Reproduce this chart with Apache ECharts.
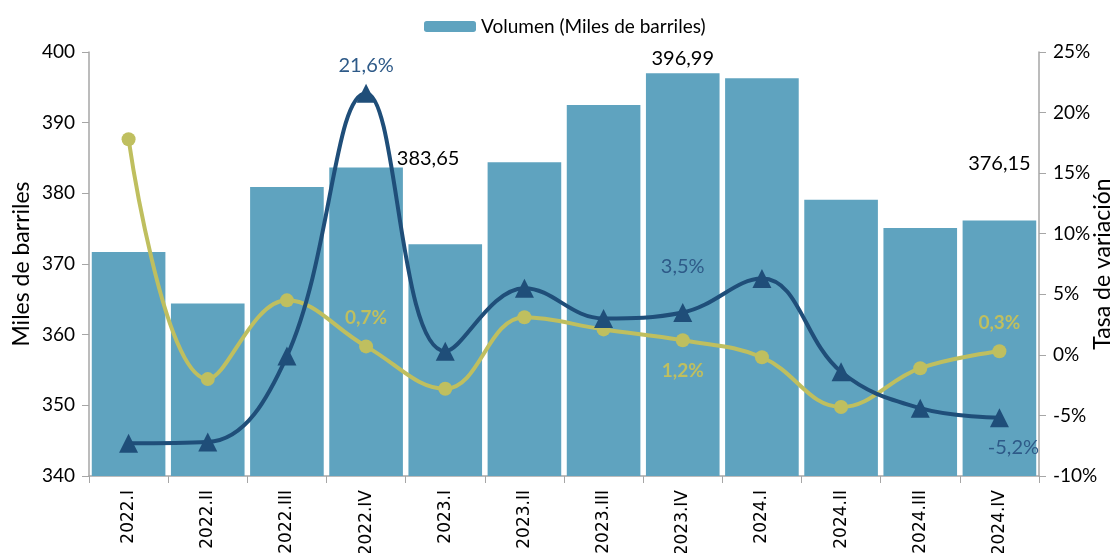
<!DOCTYPE html>
<html>
<head>
<meta charset="utf-8">
<script src="https://cdn.jsdelivr.net/npm/echarts@6/dist/echarts.min.js"></script>
<style>html,body{margin:0;padding:0;background:#fff;}#c{width:1120px;height:553px;}</style>
</head>
<body>
<div id="c"></div>
<script>
const categories = ['2022.I','2022.II','2022.III','2022.IV','2023.I','2023.II','2023.III','2023.IV','2024.I','2024.II','2024.III','2024.IV'];
const volumen = [371.7, 364.4, 380.9, 383.65, 372.8, 384.4, 392.5, 396.99, 396.3, 379.1, 375.1, 376.15];
const tasaTrimestral = [17.8, -2.0, 4.5, 0.7, -2.8, 3.1, 2.1, 1.2, -0.2, -4.3, -1.1, 0.3];
const tasaAnual = [-7.3, -7.2, -0.1, 21.6, 0.3, 5.5, 3.0, 3.5, 6.3, -1.4, -4.4, -5.2];
const leftTicks = [340, 400, 10];
const rightTicks = [-10, 25, 5];

const FONT = 'Lato, "Open Sans", sans-serif';
const fmtNum = v => v.toFixed(2).replace('.', ',');
const fmtPct = v => v.toFixed(1).replace('.', ',') + '%';

const barLabels = {3: {offset: [62, 6]}, 7: {offset: [0, 0]}, 11: {offset: [0, -42]}};
const barData = volumen.map((v, i) => {
  const o = {value: v};
  if (barLabels[i]) o.label = Object.assign({show: true, position: 'top', color: '#000', fontSize: 20, fontFamily: FONT, formatter: p => fmtNum(p.value)}, barLabels[i]);
  return o;
});
const yLabels = {3: {position: 'top', distance: 12}, 7: {position: 'bottom', distance: 14}, 11: {position: 'top', distance: 12}};
const yData = tasaTrimestral.map((v, i) => {
  const o = {value: v};
  if (yLabels[i]) o.label = Object.assign({show: true, color: '#BFBF5F', fontWeight: 'bold', fontSize: 19, fontFamily: FONT, formatter: p => fmtPct(p.value)}, yLabels[i]);
  return o;
});
const bLabels = {3: {position: 'top', distance: 8}, 7: {position: 'top', distance: 26}, 11: {position: 'bottom', distance: 10, offset: [14, 0]}};
const bData = tasaAnual.map((v, i) => {
  const o = {value: v};
  if (bLabels[i]) o.label = Object.assign({show: true, color: '#2E5A88', fontSize: 20, fontFamily: FONT, formatter: p => fmtPct(p.value)}, bLabels[i]);
  return o;
});

const chart = echarts.init(document.getElementById('c'));
chart.setOption({
  animation: false,
  textStyle: {fontFamily: FONT},
  legend: {
    data: ['Volumen (Miles de barriles)'],
    top: 12, left: 419,
    itemWidth: 52, itemHeight: 11, itemGap: 6,
    textStyle: {fontSize: 19, color: '#000', fontFamily: FONT}
  },
  grid: {left: 89, right: 81, top: 52, bottom: 77, containLabel: false, outerBoundsMode: 'none'},
  xAxis: {
    type: 'category', data: categories,
    axisLine: {onZero: false, lineStyle: {color: '#A6A6A6', width: 1.5}},
    axisTick: {show: true, alignWithLabel: false, length: 7, lineStyle: {color: '#A6A6A6'}},
    axisLabel: {rotate: 90, color: '#000', fontSize: 17, margin: 14, fontFamily: '"DejaVu Sans", sans-serif'}
  },
  yAxis: [{
    type: 'value', min: leftTicks[0], max: leftTicks[1], interval: leftTicks[2],
    name: 'Miles de barriles', nameLocation: 'middle', nameRotate: 90, nameGap: 67, nameMoveOverlap: false,
    nameTextStyle: {fontSize: 23, color: '#000', fontFamily: FONT, verticalAlign: 'middle', align: 'center'},
    axisLine: {show: true, onZero: false, lineStyle: {color: '#A6A6A6', width: 1.5}},
    axisTick: {show: true, length: 7, lineStyle: {color: '#A6A6A6'}},
    splitLine: {show: false},
    axisLabel: {color: '#000', fontSize: 19, margin: 14, fontFamily: FONT}
  }, {
    type: 'value', min: rightTicks[0], max: rightTicks[1], interval: rightTicks[2],
    position: 'right',
    name: 'Tasa de variación', nameLocation: 'middle', nameRotate: 90, nameGap: 64, nameMoveOverlap: false,
    nameTextStyle: {fontSize: 23, color: '#000', fontFamily: FONT, verticalAlign: 'middle', align: 'center'},
    axisLine: {show: true, onZero: false, lineStyle: {color: '#A6A6A6', width: 1.5}},
    axisTick: {show: true, length: 7, lineStyle: {color: '#A6A6A6'}},
    splitLine: {show: false},
    axisLabel: {color: '#000', fontSize: 19, margin: 14, fontFamily: FONT, formatter: v => v + '%'}
  }],
  series: [{
    name: 'Volumen (Miles de barriles)', type: 'bar', data: barData,
    yAxisIndex: 0, barCategoryGap: '7%',
    itemStyle: {color: '#5FA3BF'}, z: 1
  }, {
    name: 'Variación trimestral', type: 'line', data: yData, yAxisIndex: 1,
    smooth: 0.4, symbol: 'circle', symbolSize: 14,
    lineStyle: {color: '#BFBF5F', width: 4}, itemStyle: {color: '#BFBF5F'}, z: 3
  }, {
    name: 'Variación anual', type: 'line', data: bData, yAxisIndex: 1,
    smooth: 0.4, symbol: 'triangle', symbolSize: 19,
    lineStyle: {color: '#1F4E79', width: 4}, itemStyle: {color: '#1F4E79'}, z: 4
  }]
});
</script>
</body>
</html>
